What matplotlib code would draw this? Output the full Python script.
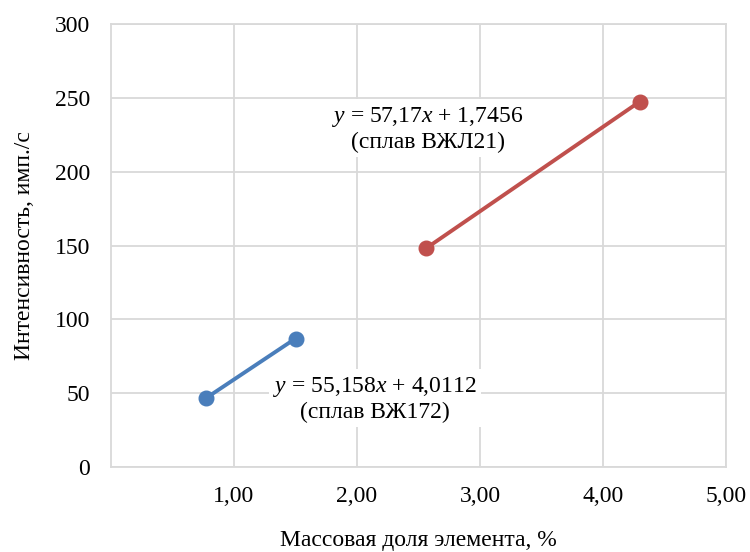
import matplotlib.pyplot as plt

# ВЖ172 (blue) and ВЖЛ21 (red) calibration points
vzh172_x = [0.77, 1.50]
vzh172_y = [46.5, 87.0]
vzhl21_x = [2.56, 4.30]
vzhl21_y = [148.0, 247.5]

x_ticks = [1, 2, 3, 4, 5]
x_tick_labels = ["1,00", "2,00", "3,00", "4,00", "5,00"]
y_ticks = [0, 50, 100, 150, 200, 250, 300]

BLUE = "#4a7ebb"
RED = "#c0504d"
GRID = "#d9d9d9"
FS = 17

plt.rcParams["font.family"] = ["Liberation Serif", "DejaVu Serif"]
plt.rcParams["mathtext.fontset"] = "custom"
plt.rcParams["mathtext.it"] = "Liberation Serif:italic"
plt.rcParams["mathtext.rm"] = "Liberation Serif"

fig = plt.figure(figsize=(7.5, 5.52), dpi=100)
ax = fig.add_axes([0.148, 0.154, 0.82, 0.8025])

ax.plot(vzh172_x, vzh172_y, "o-", color=BLUE, lw=2.8, ms=10.5, zorder=3)
ax.plot(vzhl21_x, vzhl21_y, "o-", color=RED, lw=2.8, ms=10.5, zorder=3)

ax.set_xlim(0, 5)
ax.set_ylim(0, 300)
ax.set_xticks(x_ticks)
ax.set_xticklabels(x_tick_labels)
ax.set_yticks(y_ticks)
ax.tick_params(axis="x", length=0, pad=14, labelsize=FS)
ax.tick_params(axis="y", length=0, pad=15, labelsize=FS)
ax.grid(True, color=GRID, lw=1.3)
ax.set_axisbelow(True)
for s in ax.spines.values():
    s.set_color(GRID)
    s.set_linewidth(1.3)

box = dict(facecolor="white", edgecolor="none", pad=3)
ax.text(2.577, 229, "$y$ = 57,17$x$ + 1,7456\n(сплав ВЖЛ21)", ha="center",
        va="center", fontsize=FS, linespacing=1.15, bbox=box, zorder=4)
ax.text(2.146, 46.0, "$y$ = 55,158$x$ + 4,0112\n(сплав ВЖ172)", ha="center",
        va="center", fontsize=FS, linespacing=1.15, bbox=box, zorder=4)

ax.set_xlabel("Массовая доля элемента, %", fontsize=FS, va="center")
ax.xaxis.set_label_coords(0.5, -0.165)
ax.set_ylabel("Интенсивность, имп./с", fontsize=FS, va="center")
ax.yaxis.set_label_coords(-0.140, 0.5)

fig.savefig("out.png", dpi=100)
